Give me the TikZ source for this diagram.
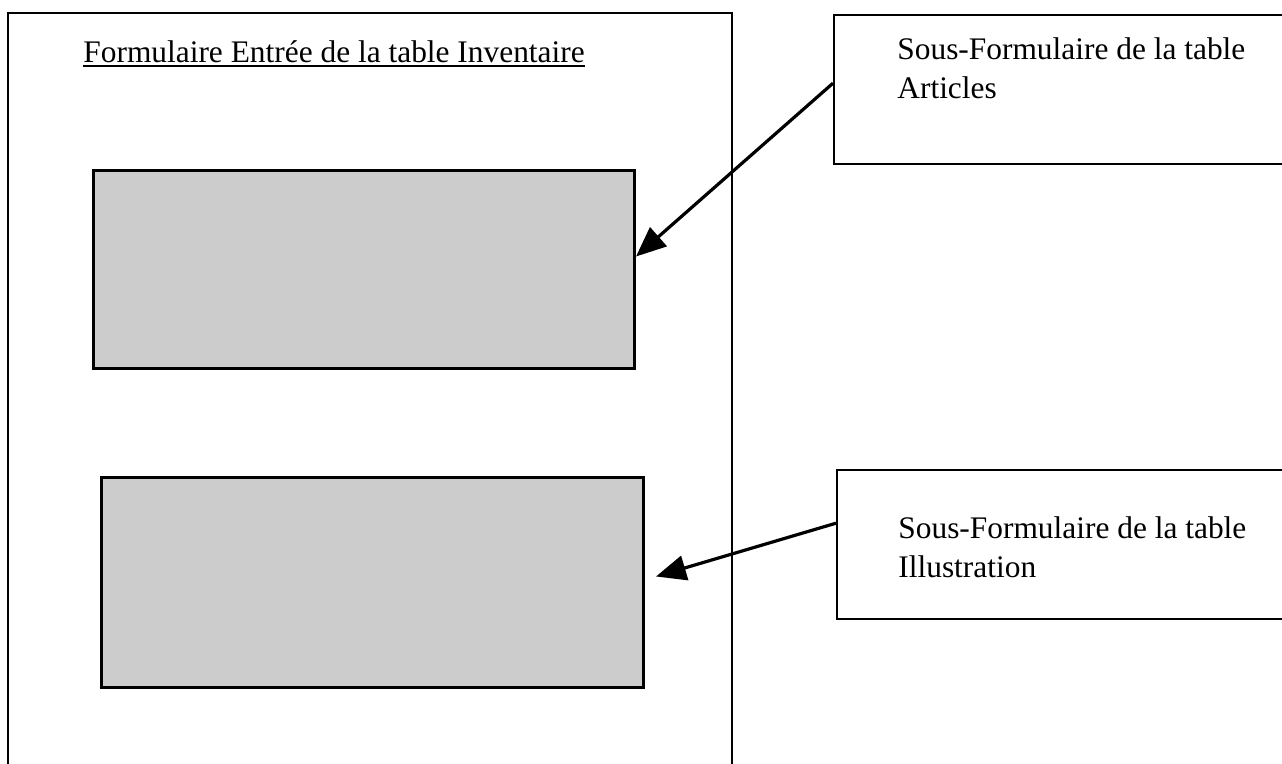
\documentclass[tikz,border=0pt]{standalone}
\usepackage{fontspec}
\setmainfont{Liberation Serif}
\usetikzlibrary{arrows.meta,patterns}
\begin{document}
\begin{tikzpicture}[x=0.5pt,y=-0.5pt,
  panel/.style={draw=black, line width=1.5pt, fill=black!20, inner sep=0pt, anchor=north west},
  calloutbox/.style={draw=black, line width=1.2pt, fill=white, inner sep=0pt, anchor=north west},
  txt/.style={font=\fontsize{15.7pt}{19.5pt}\selectfont, inner sep=0pt, align=left},
  arr/.style={line width=1.6pt, -{Triangle[length=15pt,width=12.5pt]}}]
\useasboundingbox (0,0) rectangle (1282,764);
\fill[white] (0,0) rectangle (1282,764);
% outer form frame (open at the bottom edge of the picture)
\draw[line width=1pt] (8,764) -- (8,13) -- (732,13) -- (732,764);
\node[txt, anchor=base west] (title) at (83,63) {Formulaire Entrée de la table Inventaire};
\draw[line width=1pt] ([yshift=-1.6pt]title.base west) -- ([yshift=-1.6pt]title.base east);
% grey sub-form areas
\node[panel, minimum width=270.5pt, minimum height=99pt] (box1) at (92,169) {};
\node[panel, minimum width=271pt, minimum height=105pt] (box2) at (100,476) {};
% callout boxes
\node[calloutbox, minimum width=235pt, minimum height=74.5pt] (c1) at (833,14) {};
\node[calloutbox, minimum width=232pt, minimum height=74.5pt] (c2) at (836,469) {};
\node[txt, anchor=north west] (t1) at (897,37) {Sous-Formulaire de la table\\Articles};
\node[txt, anchor=north west] (t2) at (898,516) {Sous-Formulaire de la table\\Illustration};
% arrows
\draw[arr] ([yshift=3.25pt]c1.west) -- ([yshift=6.5pt]box1.east);
\draw[arr] ([yshift=10.75pt]c2.west) -- ([xshift=5.5pt,yshift=3pt]box2.east);
\end{tikzpicture}
\end{document}
